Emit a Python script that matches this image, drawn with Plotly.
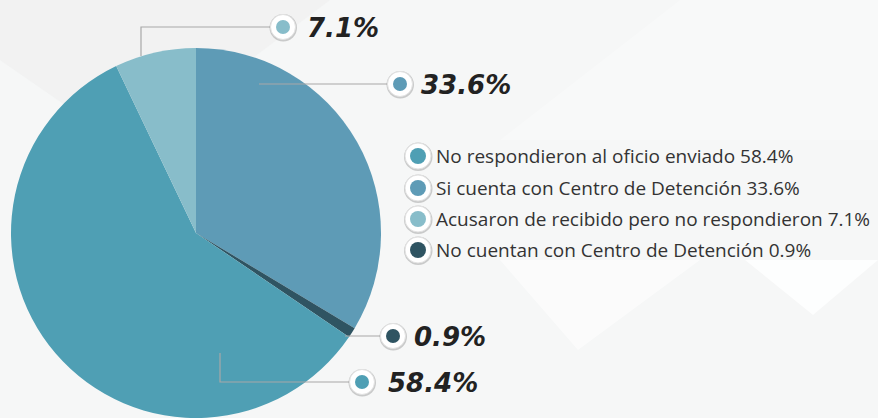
import plotly.graph_objects as go

# ---- data ----
pie_labels = ["Si cuenta con Centro de Detención", "No cuentan con Centro de Detención",
              "No respondieron al oficio enviado", "Acusaron de recibido pero no respondieron"]
pie_values = [33.6, 0.9, 58.4, 7.1]
pie_colors = ["#5e9bb6", "#2f5462", "#4f9fb4", "#88bdca"]

legend_order = [2, 0, 3, 1]  # indices into pie arrays, as shown in legend

W, H = 878, 418

def px(x):
    return x / W

def py(y):
    return 1 - y / H

fig = go.Figure()

fig.add_trace(go.Pie(
    labels=pie_labels, values=pie_values, sort=False, direction="clockwise",
    rotation=0, marker=dict(colors=pie_colors, line=dict(width=0)),
    textinfo="none", hoverinfo="label+percent", showlegend=False,
    domain=dict(x=[px(10), px(382)], y=[0, py(48)]),
))

shapes = []
annotations = []

# background subtle shapes
bg_polys = [
    ("M 500 260 L 578 350 L 700 260 Z", "rgba(255,255,255,0.55)"),
    ("M 745 260 L 813 315 L 878 260 Z", "rgba(255,255,255,0.8)"),
    ("M 500 140 L 878 140 L 878 0 L 680 0 Z", "rgba(255,255,255,0.25)"),
    ("M 0 0 L 330 0 L 130 150 L 0 60 Z", "rgba(238,238,238,0.5)"),
]

def path_px_to_paper(p):
    toks = p.split()
    out = []
    i = 0
    while i < len(toks):
        t = toks[i]
        if t in ("M", "L"):
            x = float(toks[i + 1]); y = float(toks[i + 2])
            out.append(f"{t} {px(x):.5f} {py(y):.5f}")
            i += 3
        else:
            out.append(t)
            i += 1
    return " ".join(out)

for p, c in bg_polys:
    shapes.append(dict(type="path", xref="paper", yref="paper", path=path_px_to_paper(p),
                       fillcolor=c, line=dict(width=0), layer="below"))


def ring_marker(cx, cy, color, r_out=13, r_in=7.5):
    # shadow
    shapes.append(dict(type="circle", xref="paper", yref="paper",
                       x0=px(cx - r_out - 1), x1=px(cx + r_out + 1.5),
                       y0=py(cy + r_out + 2), y1=py(cy - r_out - 0.5),
                       fillcolor="rgba(0,0,0,0.18)", line=dict(width=0)))
    shapes.append(dict(type="circle", xref="paper", yref="paper",
                       x0=px(cx - r_out), x1=px(cx + r_out),
                       y0=py(cy + r_out), y1=py(cy - r_out),
                       fillcolor="#ffffff", line=dict(color="#e2e2e2", width=1)))
    shapes.append(dict(type="circle", xref="paper", yref="paper",
                       x0=px(cx - r_in), x1=px(cx + r_in),
                       y0=py(cy + r_in), y1=py(cy - r_in),
                       fillcolor=color, line=dict(width=0)))


def leader(points):
    d = "M " + " L ".join(f"{px(x):.5f} {py(y):.5f}" for x, y in points)
    shapes.append(dict(type="path", xref="paper", yref="paper", path=d,
                       line=dict(color="#a8a8a8", width=1.2)))

# callout labels: (pie index, leader points, marker center, text x)
callouts = [
    (3, [(141, 56), (141, 27), (270, 27)], (283, 27), 305),
    (0, [(259, 84), (388, 84)], (400, 84), 419),
    (1, [(345, 336), (381, 336)], (393, 336), 412),
    (2, [(220, 353), (220, 382), (350, 382)], (362, 382), 386),
]
for idx, pts, (cx, cy), tx in callouts:
    leader(pts)
    ring_marker(cx, cy, pie_colors[idx], r_out=12.5, r_in=7)
    annotations.append(dict(
        x=px(tx), y=py(cy + 1), xref="paper", yref="paper", xanchor="left", yanchor="middle",
        text=f"{pie_values[idx]:.1f}%", showarrow=False,
        font=dict(family="DejaVu Sans", size=26, color="#222222", weight="bold", style="italic"),
    ))

# legend
leg_y = [156, 188, 219, 250]
for row, idx in enumerate(legend_order):
    cy = leg_y[row]
    ring_marker(418, cy, pie_colors[idx], r_out=13, r_in=8)
    annotations.append(dict(
        x=px(434), y=py(cy), xref="paper", yref="paper", xanchor="left", yanchor="middle",
        text=f"{pie_labels[idx]} {pie_values[idx]:.1f}%", showarrow=False,
        font=dict(family="Open Sans", size=19, color="#333333"),
    ))

fig.update_layout(
    width=W, height=H, margin=dict(l=0, r=0, t=0, b=0),
    paper_bgcolor="#f6f7f7", plot_bgcolor="#f6f7f7",
    shapes=shapes, annotations=annotations, showlegend=False,
)

fig.write_html("out.html", config={"displayModeBar": False},
               post_script="document.body.style.margin='0';document.body.style.overflow='hidden';")
